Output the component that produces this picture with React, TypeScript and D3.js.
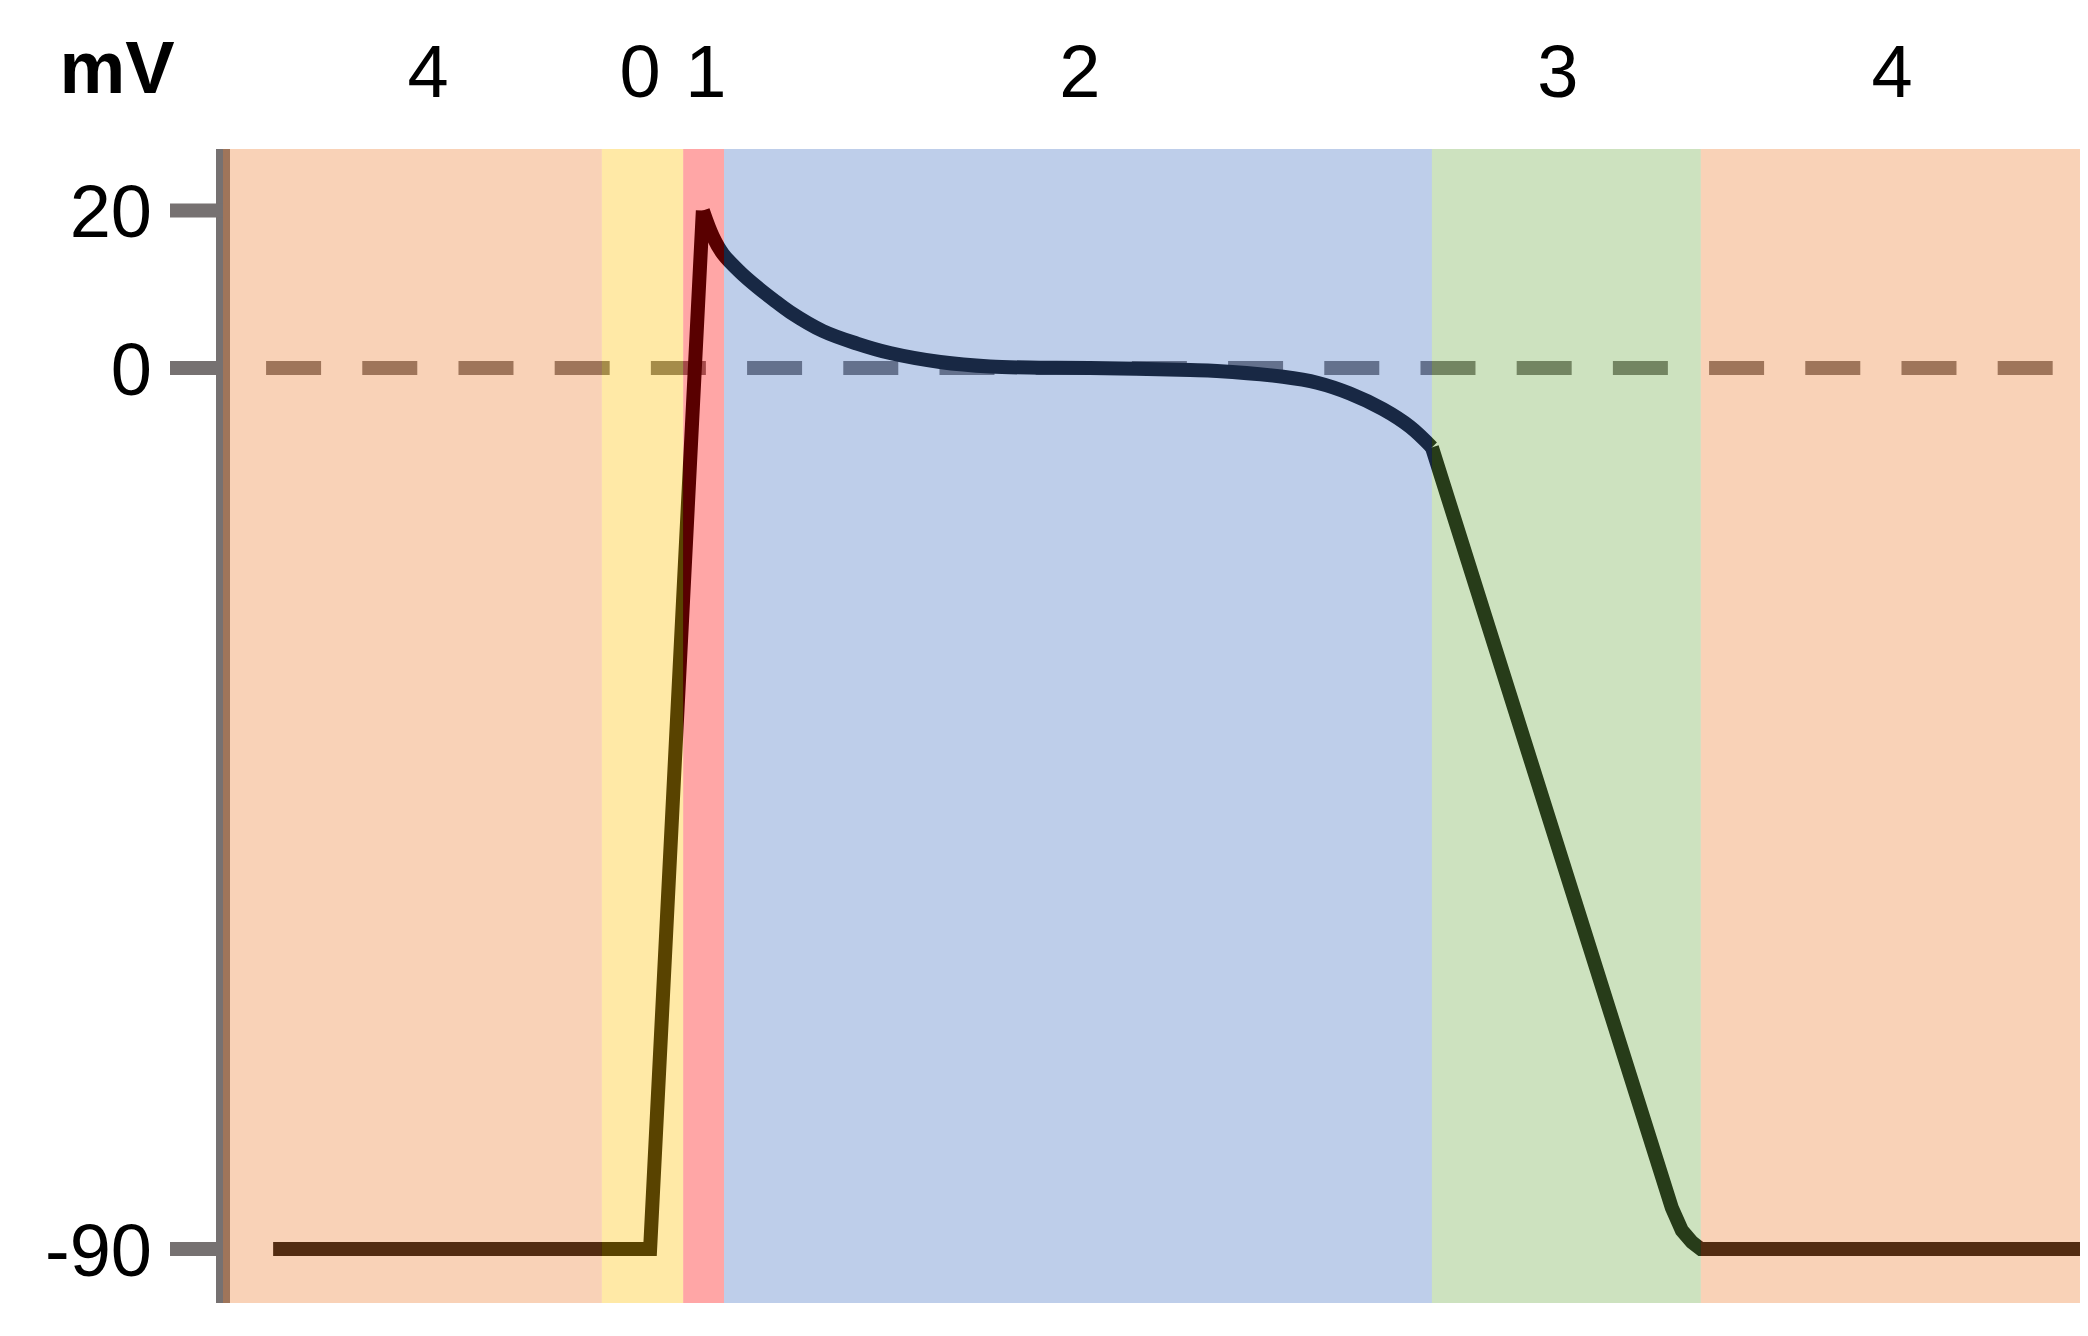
import React from "react";
import * as d3 from "d3";

// ---------- data ----------
// time in arbitrary ms-like units, voltage in mV
const phaseNames = ["4", "0", "1", "2", "3", "4"];
const phaseStarts = [0, 102.0, 123.9, 134.9, 325.5, 397.9];
const phaseEnds = [102.0, 123.9, 134.9, 325.5, 397.9, 500];
const phaseColors = ["#ED7D31", "#FFC000", "#FF0000", "#4472C4", "#70AD47", "#ED7D31"];
const phaseLabelTimes = [55.2, 112.3, 130.0, 230.7, 359.4, 449.4];

// resting + upstroke (phase 4 and phase 0)
const upTime = [13.5, 115.0, 129.2];
const upMv = [-90, -90, 20];

// phase 1 + phase 2 (notch and plateau)
const plateauTime = [129.2, 131.9, 134.6, 139.2, 143.8, 148.1, 152.7, 161.5, 170.7, 179.6, 193.1, 206.5, 220.0, 233.4, 260.4, 267.6, 285.4, 294.6, 303.4, 312.3, 319.6, 325.5];
const plateauMv = [20, 16.7, 14.5, 12.2, 10.3, 8.7, 7.1, 4.7, 3.1, 1.9, 0.76, 0.19, 0.04, 0, -0.2, -0.3, -0.9, -1.5, -2.6, -4.2, -6.0, -8.1];

// phase 3 repolarisation + phase 4
const repolTime = [325.5, 390.1, 392.8, 395.5, 397.9, 500];
const repolMv = [-8.1, -85.8, -88.1, -89.3, -90, -90];

const yTicks = [20, 0, -90];
const zeroLine = [11.6, 493.0];

// ---------- layout ----------
const W = 2088;
const H = 1336;
const plotLeft = 223;
const plotRight = 2080;
const plotTop = 149;
const plotBottom = 1303;
const AXIS = "#767171";
const FONT = "'Liberation Sans', Arial, Helvetica, sans-serif";

export default function App() {
  const x = d3.scaleLinear().domain([0, 500]).range([plotLeft, plotRight]);
  const y = d3.scaleLinear().domain([-90, 0, 20]).range([1249, 368, 210.5]);

  const toPts = (t: number[], v: number[]) => t.map((tt, i) => [tt, v[i]] as [number, number]);

  const linear = d3
    .line<[number, number]>()
    .x((d) => x(d[0]))
    .y((d) => y(d[1]));
  const smooth = d3
    .line<[number, number]>()
    .x((d) => x(d[0]))
    .y((d) => y(d[1]))
    .curve(d3.curveCatmullRom.alpha(0.5));

  const upPath = linear(toPts(upTime, upMv)) || "";
  const platPath = smooth(toPts(plateauTime, plateauMv)) || "";
  const repolPath = linear(toPts(repolTime, repolMv)) || "";

  return (
    <svg
      width={W}
      height={H}
      viewBox={`0 0 ${W} ${H}`}
      style={{ position: "absolute", left: 0, top: 0, display: "block", background: "#fff" }}
    >
      {/* y axis line */}
      <line x1={plotLeft} x2={plotLeft} y1={plotTop} y2={plotBottom} stroke={AXIS} strokeWidth={14} />
      {/* ticks */}
      {yTicks.map((t) => (
        <g key={t}>
          <line x1={170} x2={plotLeft} y1={y(t)} y2={y(t)} stroke={AXIS} strokeWidth={14} />
          <text
            x={152}
            y={y(t) + 26.5}
            textAnchor="end"
            fontFamily={FONT}
            fontSize={74}
            fill="#000"
          >
            {t}
          </text>
        </g>
      ))}
      {/* zero dashed line */}
      <line
        x1={x(zeroLine[0])}
        x2={x(zeroLine[1])}
        y1={y(0)}
        y2={y(0)}
        stroke={AXIS}
        strokeWidth={14}
        strokeDasharray="55 41.2"
      />
      {/* action potential */}
      <path d={upPath} fill="none" stroke="#000" strokeWidth={14} strokeLinejoin="miter" strokeLinecap="butt" />
      <path d={platPath} fill="none" stroke="#000" strokeWidth={14} strokeLinejoin="round" strokeLinecap="butt" />
      <path d={repolPath} fill="none" stroke="#000" strokeWidth={14} strokeLinejoin="miter" strokeLinecap="butt" />
      {/* phase bands overlay */}
      {phaseStarts.map((s, i) => (
        <rect
          key={i}
          x={x(s)}
          y={plotTop}
          width={x(phaseEnds[i]) - x(s)}
          height={plotBottom - plotTop}
          fill={phaseColors[i]}
          fillOpacity={0.35}
        />
      ))}
      {/* phase labels */}
      {phaseNames.map((n, i) => (
        <text
          key={i}
          x={x(phaseLabelTimes[i])}
          y={97}
          textAnchor="middle"
          fontFamily={FONT}
          fontSize={74}
          fill="#000"
        >
          {n}
        </text>
      ))}
      <text x={117} y={93} textAnchor="middle" fontFamily={FONT} fontSize={74} fontWeight="bold" fill="#000">
        mV
      </text>
    </svg>
  );
}
